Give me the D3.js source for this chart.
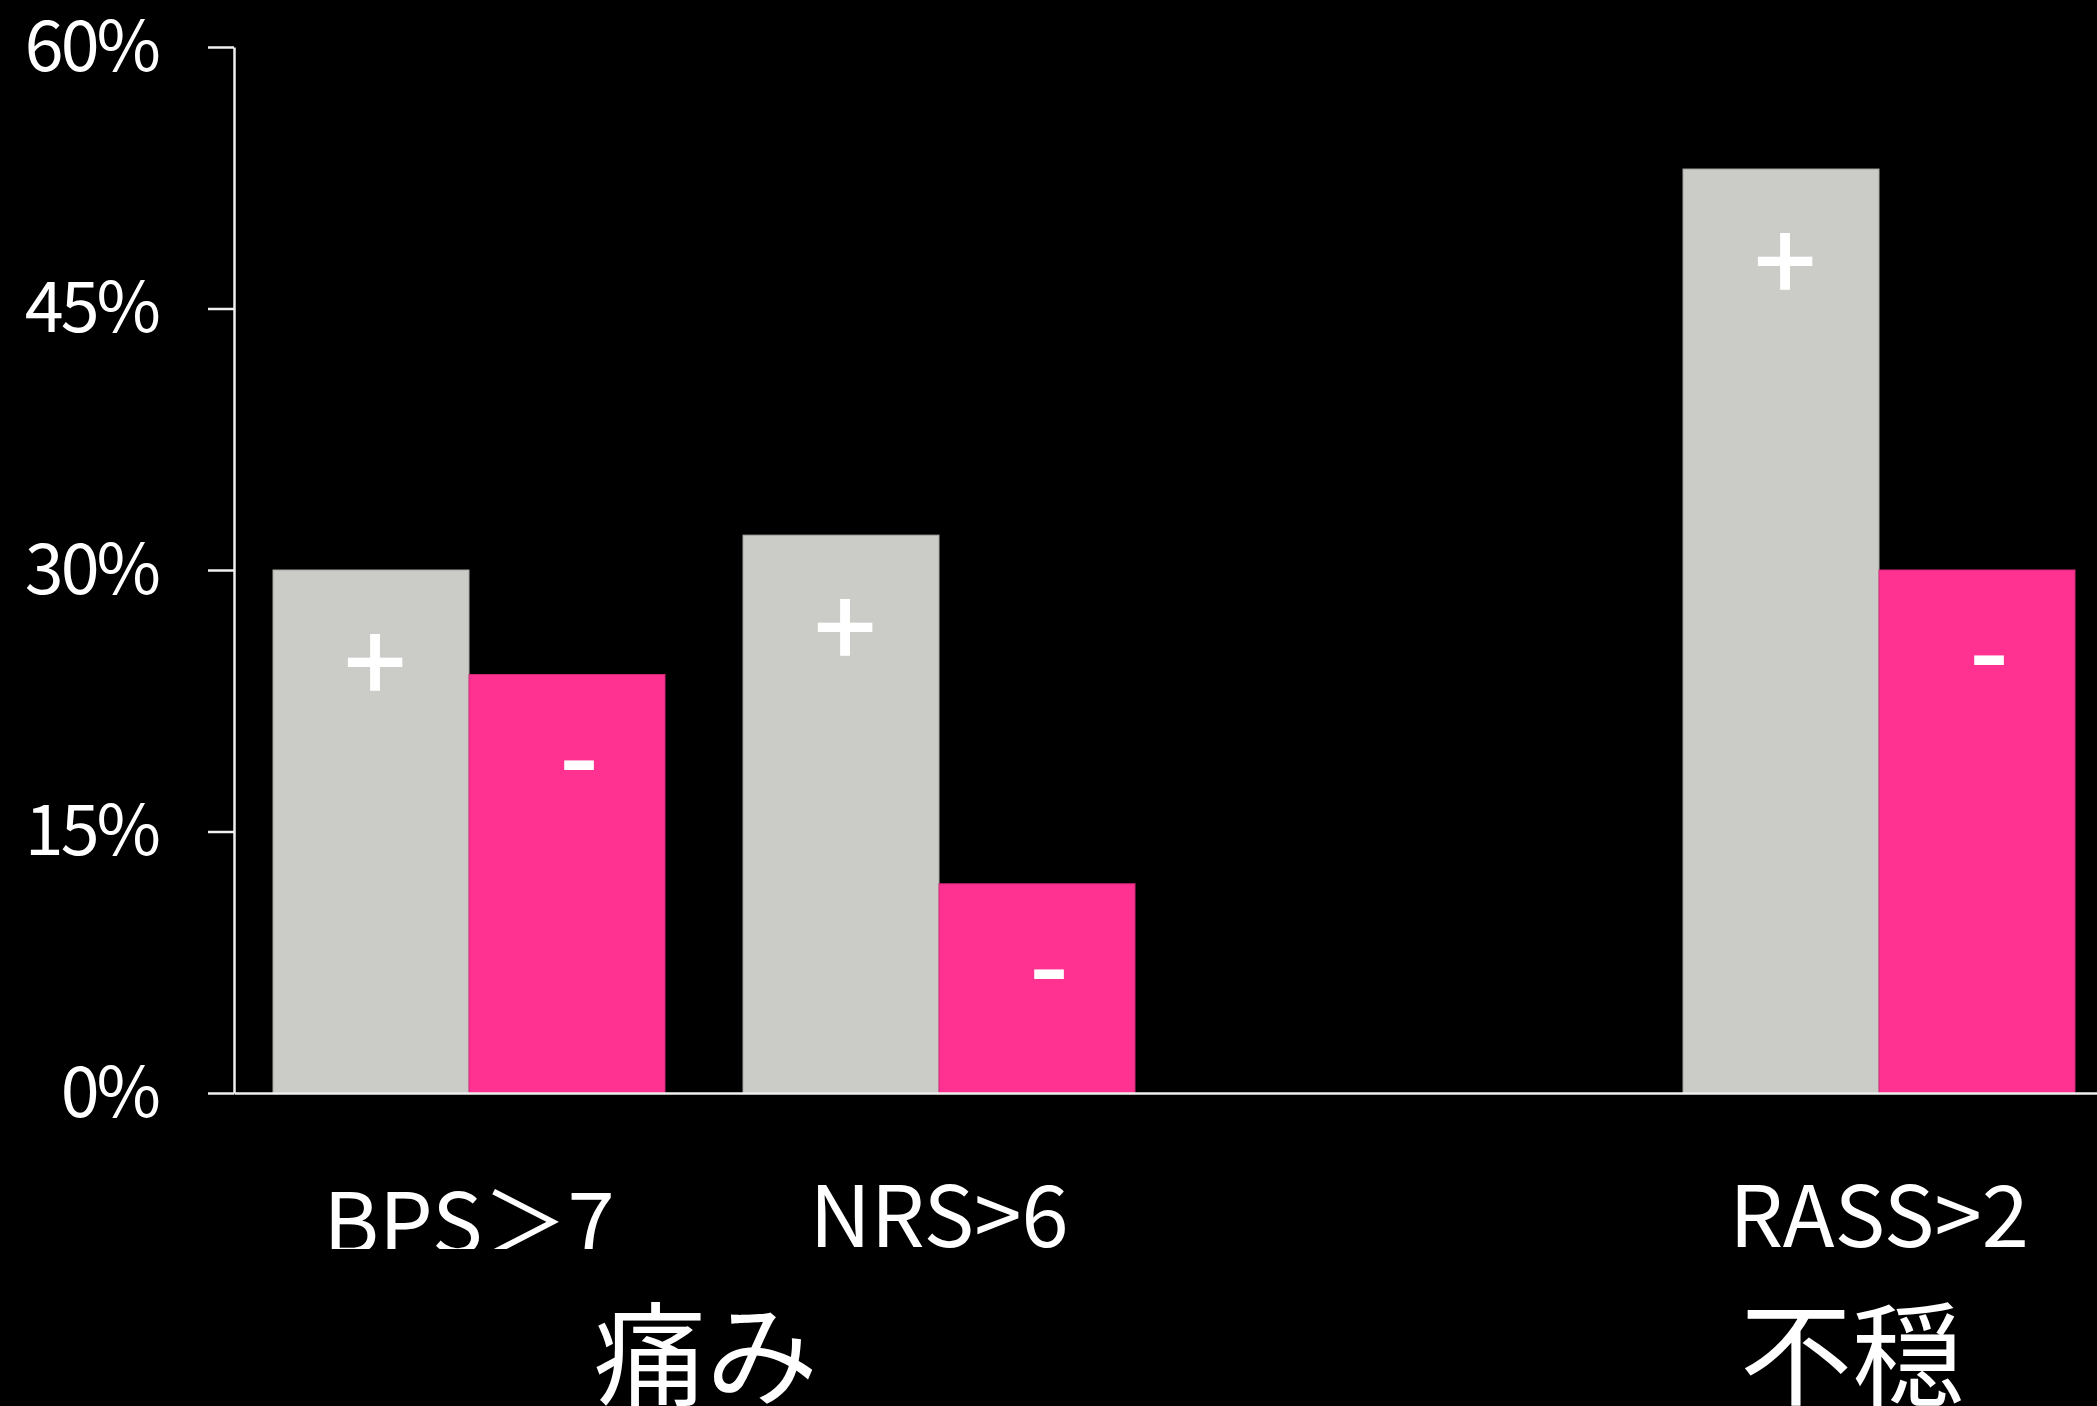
<!DOCTYPE html>
<html>
<head>
<meta charset="utf-8">
<script src="https://cdn.jsdelivr.net/npm/d3@7"></script>
<style>
  html, body { margin: 0; padding: 0; background: #000; overflow: hidden; }
  svg { display: block; }
  text { font-family: "Noto Sans CJK JP", "Noto Sans", sans-serif; fill: #fff; }
</style>
</head>
<body>
<svg id="chart" width="2097" height="1406"></svg>
<script>
// ---- data ----
const categories = ["BPS＞7", "NRS>6", "", "RASS>2"];
const seriesKeys = ["plus", "minus"];
const seriesMarks = ["+", "-"];
const plusValues = [30, 32, null, 53];
const minusValues = [24, 12, null, 30];
const yTicks = [0, 15, 30, 45, 60];
const groupLabels = ["痛み", "不穏"];
const groupFirstCategory = [0, 3];
const groupLastCategory = [1, 3];

// ---- layout ----
const W = 2097, H = 1406;
const svg = d3.select("#chart");
svg.append("rect").attr("width", W).attr("height", H).attr("fill", "#000");

const axisX = 234;
const x = d3.scaleBand().domain(categories).range([axisX, 2114])
  .paddingInner(0.166).paddingOuter(0.083);
const xs = d3.scaleBand().domain(seriesKeys).range([0, x.bandwidth()]);
const y = d3.scaleLinear().domain([0, 60]).range([1093, 47]);
const colors = { plus: "#cbcbc8", minus: "#ff3191" };
const edge = { plus: "#a9a9a6", minus: "#d92a7c" };

const rows = categories.map((c, i) => ({ cat: c, plus: plusValues[i], minus: minusValues[i] }));

// bars
const g = svg.append("g");
rows.forEach(r => {
  seriesKeys.forEach(k => {
    if (r[k] == null) return;
    g.append("rect")
      .attr("x", x(r.cat) + xs(k))
      .attr("y", y(r[k]))
      .attr("width", xs.bandwidth())
      .attr("height", y(0) - y(r[k]))
      .attr("fill", colors[k])
      .attr("stroke", edge[k])
      .attr("stroke-width", 1);
  });
});

// +/- marks inside bars
const markOffset = { plus: 97, minus: 93 };
rows.forEach(r => {
  seriesKeys.forEach((k, si) => {
    if (r[k] == null) return;
    g.append("text")
      .attr("x", x(r.cat) + xs(k) + xs.bandwidth() / 2 + (k === "minus" ? 12 : 4))
      .attr("y", y(r[k]) + markOffset[k])
      .attr("dy", k === "plus" ? "0.33em" : "0.26em")
      .attr("text-anchor", "middle")
      .attr("font-size", k === "plus" ? 110 : 112)
      .attr("font-weight", 500)
      .text(seriesMarks[si]);
  });
});

// y axis
const yAxis = d3.axisLeft(y).tickValues(yTicks).tickSize(26).tickSizeOuter(0)
  .tickPadding(50).tickFormat(d => d + "%");
const ya = svg.append("g").attr("transform", `translate(${axisX},0)`).call(yAxis);
ya.selectAll("path, line").attr("stroke", "#f0f0f0").attr("stroke-width", 2.5);
ya.selectAll("text").attr("font-size", 70).attr("fill", "#fff")
  .attr("letter-spacing", "-3px")
  .attr("dy", "0.33em").style("font-family", '"Noto Sans CJK JP", sans-serif');

// x axis baseline
const xAxis = d3.axisBottom(x).tickSize(0).tickSizeOuter(0).tickFormat("");
const xa = svg.append("g").attr("transform", `translate(0,${y(0)})`).call(xAxis);
xa.select(".domain").attr("stroke", "#f0f0f0").attr("stroke-width", 2.5);
xa.selectAll(".tick").remove();

// category labels
svg.append("clipPath").attr("id", "lblclip")
  .append("rect").attr("x", 0).attr("y", 0).attr("width", W).attr("height", 1249);
categories.forEach((c, i) => {
  if (!c) return;
  svg.append("text")
    .attr("x", x(c) + x.bandwidth() / 2)
    .attr("y", i === 0 ? 1254 : 1247)
    .attr("text-anchor", "middle")
    .attr("font-size", 85)
    .attr("clip-path", i === 0 ? "url(#lblclip)" : null)
    .text(c);
});

// group labels
const groupNudge = [2, -27];
groupLabels.forEach((lbl, gi) => {
  const a = x(categories[groupFirstCategory[gi]]);
  const b = x(categories[groupLastCategory[gi]]) + x.bandwidth();
  svg.append("text")
    .attr("x", (a + b) / 2 + groupNudge[gi])
    .attr("y", 1397)
    .attr("text-anchor", "middle")
    .attr("font-size", 112)
    .text(lbl);
});
</script>
</body>
</html>
